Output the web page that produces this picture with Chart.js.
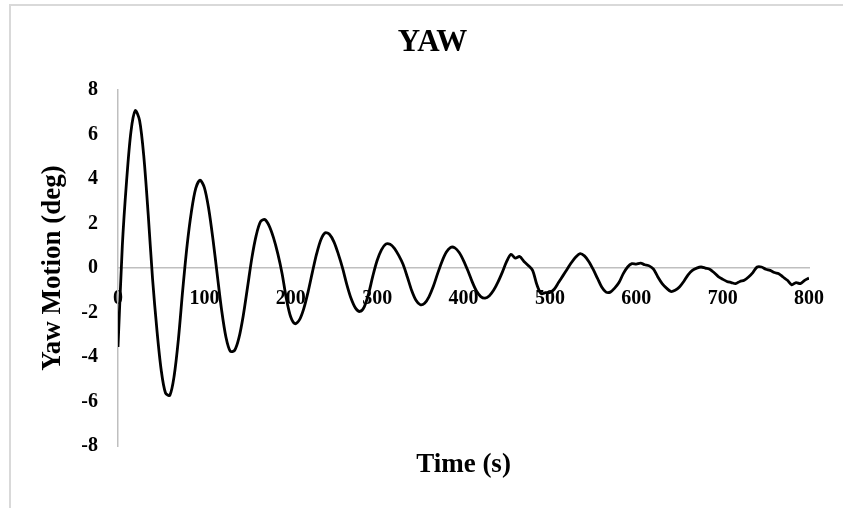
<!DOCTYPE html>
<html>
<head>
<meta charset="utf-8">
<title>YAW</title>
<script src="https://cdn.jsdelivr.net/npm/chart.js@4.4.1/dist/chart.umd.min.js"></script>
<style>
    html, body { margin: 0; padding: 0; background: #fff; }
    #frame {
        position: absolute; left: 9px; top: 4px; right: 0; bottom: 0;
        border-top: 2px solid #d9d9d9; border-left: 2px solid #d9d9d9;
    }
    #yawChart { position: absolute; left: 0; top: 0; }
</style>
</head>
<body>
<div id="frame"></div>
<canvas id="yawChart" width="843" height="508"></canvas>
<script>
// Graph Data
const times = [];
for (let t = 0; t <= 800; t += 5) times.push(t);

// Yaw motion (deg), read every 5 s from the record
const yaw = [
    -3.55, 1.0, 3.95, 6.14, 7.08, 6.64, 4.97, 2.4, -0.48, -2.76,
    -4.58, -5.62, -5.72, -4.85, -3.17, -0.96, 1.02, 2.54, 3.58, 3.95,
    3.62, 2.67, 1.28, -0.33, -1.9, -3.11, -3.74, -3.7, -3.14, -2.14,
    -0.85, 0.46, 1.47, 2.09, 2.18, 1.9, 1.37, 0.65, -0.25, -1.39,
    -2.2, -2.5, -2.33, -1.83, -1.08, -0.19, 0.65, 1.29, 1.59, 1.51,
    1.18, 0.64, 0.0, -0.75, -1.38, -1.8, -1.95, -1.75, -1.17, -0.36,
    0.34, 0.82, 1.08, 1.07, 0.89, 0.57, 0.17, -0.4, -1.01, -1.45,
    -1.65, -1.58, -1.29, -0.83, -0.25, 0.29, 0.71, 0.93, 0.91, 0.7,
    0.34, -0.11, -0.61, -1.03, -1.28, -1.35, -1.24, -0.99, -0.62, -0.18,
    0.3, 0.62, 0.45, 0.52, 0.3, 0.12, -0.1, -0.75, -1.15, -1.1,
    -1.1, -0.95, -0.65, -0.35, -0.05, 0.25, 0.5, 0.65, 0.55, 0.3,
    -0.05, -0.45, -0.85, -1.08, -1.08, -0.9, -0.65, -0.25, 0.05, 0.2,
    0.18, 0.22, 0.15, 0.1, -0.05, -0.4, -0.7, -0.9, -1.05, -1.0,
    -0.85, -0.6, -0.3, -0.1, 0.0, 0.05, 0.0, -0.05, -0.2, -0.38,
    -0.5, -0.6, -0.65, -0.7, -0.6, -0.55, -0.4, -0.2, 0.05, 0.05,
    -0.05, -0.1, -0.2, -0.25, -0.4, -0.55, -0.75, -0.65, -0.7, -0.55,
    -0.45
];

// Axis setup
const xMin = 0, xMax = 800, xStep = 100;
const yMin = -8, yMax = 8, yStep = 2;

const serif = "'Liberation Serif', 'Times New Roman', serif";
const axisGray = '#bfbfbf';

const ctx = document.getElementById('yawChart').getContext('2d');
const chart = new Chart(ctx, {
    type: 'line',
    data: {
        datasets: [{
            label: 'Yaw',
            data: times.map((t, i) => ({ x: t, y: yaw[i] })),
            borderColor: '#000',
            borderWidth: 2.8,
            pointRadius: 0,
            tension: 0.3,
            fill: false
        }]
    },
    options: {
        responsive: false,
        animation: false,
        devicePixelRatio: 1,
        layout: { padding: { left: 22, right: 0, top: 0, bottom: 0 } },
        plugins: {
            legend: { display: false },
            tooltip: { enabled: false },
            title: {
                display: true,
                text: 'YAW',
                color: '#000',
                font: { family: serif, size: 31, weight: 'bold' },
                padding: { top: 24, bottom: 29 }
            }
        },
        scales: {
            x: {
                type: 'linear',
                position: { y: 0 },
                min: xMin, max: xMax,
                grid: { display: false, drawTicks: false },
                border: { display: true, color: axisGray, width: 1.5 },
                ticks: {
                    stepSize: xStep,
                    autoSkip: false,
                    maxRotation: 0,
                    padding: 19,
                    color: '#000',
                    font: { family: serif, size: 20, weight: 'bold' }
                }
            },
            // bottom axis only carries the "Time (s)" title
            xTitle: {
                type: 'linear',
                position: 'bottom',
                grid: { display: false, drawTicks: false },
                border: { display: false },
                ticks: { display: false },
                title: {
                    display: true,
                    text: 'Time (s)',
                    color: '#000',
                    font: { family: serif, size: 27, weight: 'bold' },
                    padding: { top: 0, bottom: 27 }
                },
                afterFit: (scale) => { scale.height = 62; }
            },
            y: {
                min: yMin, max: yMax,
                grid: { display: false, drawTicks: false },
                border: { display: true, color: axisGray, width: 1.5 },
                ticks: {
                    stepSize: yStep,
                    padding: 20,
                    color: '#000',
                    font: { family: serif, size: 20, weight: 'bold' }
                },
                title: {
                    display: true,
                    text: 'Yaw Motion (deg)',
                    color: '#000',
                    font: { family: serif, size: 27, weight: 'bold' },
                    padding: { top: 15, bottom: 0 }
                },
                afterFit: (scale) => { scale.width = 96; }
            },
            // empty right axis keeps the plot's right edge at 800 s
            yRight: {
                position: 'right',
                grid: { display: false, drawTicks: false },
                border: { display: false },
                ticks: { display: false },
                afterFit: (scale) => { scale.width = 33; }
            }
        }
    }
});
</script>
</body>
</html>
